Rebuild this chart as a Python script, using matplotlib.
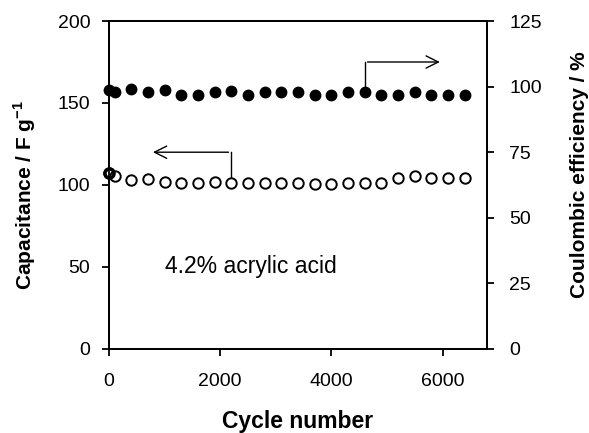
import matplotlib
matplotlib.use("Agg")
import matplotlib.pyplot as plt

plt.rcParams["font.family"] = ["Liberation Sans", "DejaVu Sans"]
plt.rcParams["mathtext.fontset"] = "custom"
plt.rcParams["mathtext.rm"] = "Liberation Sans"
plt.rcParams["mathtext.bf"] = "Liberation Sans:bold"

# cycle number
cycles = [0, 100, 400, 700, 1000, 1300, 1600, 1900, 2200, 2500, 2800, 3100,
          3400, 3700, 4000, 4300, 4600, 4900, 5200, 5500, 5800, 6100, 6400]
# capacitance / F g-1 (open circles, left axis)
capacitance = [107.5, 105.5, 103.1, 103.5, 102.0, 101.0, 101.0, 102.0, 101.0,
               101.0, 101.0, 101.0, 101.0, 100.4, 100.4, 101.0, 101.0, 101.0,
               104.1, 105.5, 104.1, 104.1, 104.1]
# coulombic efficiency / % (filled circles, right axis)
efficiency = [98.7, 97.8, 98.9, 97.9, 98.8, 96.8, 96.7, 97.9, 98.2, 96.8,
              97.9, 98.1, 98.1, 96.8, 96.8, 97.9, 97.9, 96.7, 96.7, 97.9,
              96.7, 96.7, 96.7]

fig = plt.figure(figsize=(5.89, 4.33), dpi=100)
ax = fig.add_axes([0.185, 0.194, 0.642, 0.7575])
ax2 = ax.twinx()

ax.plot(cycles, capacitance, "o", mfc="white", mec="black", mew=1.4,
        ms=7.5, clip_on=False, zorder=3)
ax.plot(cycles[:1], capacitance[:1], "o", mfc="none", mec="black", mew=2.5,
        ms=6.5, clip_on=False, zorder=4)
ax2.plot(cycles, efficiency, "o", color="black", ms=7.5, clip_on=False,
         zorder=3)

ax.set_xlim(0, 6800)
ax.set_ylim(0, 200)
ax2.set_ylim(0, 125)
ax.set_xticks([0, 2000, 4000, 6000])
ax.set_yticks([0, 50, 100, 150, 200])
ax2.set_yticks([0, 25, 50, 75, 100, 125])

for a in (ax, ax2):
    for s in a.spines.values():
        s.set_linewidth(1.3)
    a.tick_params(direction="out", length=5, width=1.3, labelsize=14)
ax.tick_params(axis="x", pad=12)
ax.tick_params(axis="y", pad=8.5)
ax2.tick_params(axis="y", pad=11)

ax.set_xlabel("Cycle number", fontsize=16.5, fontweight="bold", labelpad=15)
ax.set_ylabel(r"Capacitance / F g$^{\mathbf{-1}}$", fontsize=15,
              fontweight="bold")
ax2.set_ylabel("Coulombic efficiency / %", fontsize=15, fontweight="bold")
ax.yaxis.set_label_coords(-0.188, 0.47)
ax2.yaxis.set_label_coords(1.218, 0.53)

# arrows pointing to the axes
ax.plot([2200, 2200], [103, 120], color="black", lw=1)
ax.annotate("", xy=(740, 120), xytext=(2200, 120),
            arrowprops=dict(arrowstyle="->", lw=1, mutation_scale=22))
ax.plot([4600, 4600], [158, 175], color="black", lw=1)
ax.annotate("", xy=(6000, 175), xytext=(4600, 175),
            arrowprops=dict(arrowstyle="->", lw=1, mutation_scale=22))

ax.text(1000, 50, "4.2% acrylic acid", fontsize=16.5, va="center")

fig.savefig("out.png", dpi=100)
